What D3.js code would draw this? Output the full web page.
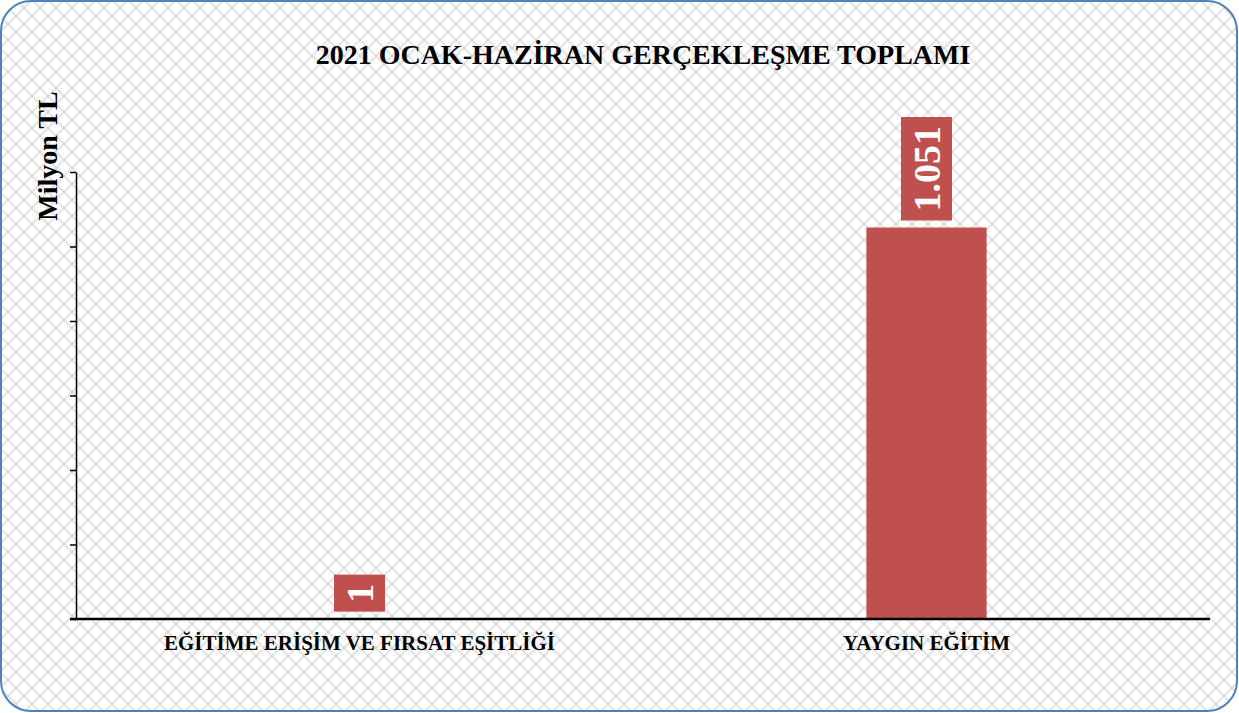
<!DOCTYPE html>
<html>
<head>
<meta charset="utf-8">
<script src="https://cdn.jsdelivr.net/npm/d3@7"></script>
<style>
  html, body { margin: 0; padding: 0; background: #fff; }
  svg text { font-family: "Liberation Serif", "Times New Roman", serif; font-weight: bold; }
</style>
</head>
<body>
<div id="chart"></div>
<script>
// chart data
const categories = ["EĞİTİME ERİŞİM VE FIRSAT EŞİTLİĞİ", "YAYGIN EĞİTİM"];
const values = [1, 1051];
const valueLabels = ["1", "1.051"];
const yTicks = [0, 200, 400, 600, 800, 1000, 1200];
const title = "2021 OCAK-HAZİRAN GERÇEKLEŞME TOPLAMI";
const yTitle = "Milyon TL";

const W = 1239, H = 713;
const margin = {top: 172, right: 29, bottom: 94, left: 76};
const width = W - margin.left - margin.right,
      height = H - margin.top - margin.bottom;

const svg = d3.select("#chart").append("svg")
  .attr("width", W)
  .attr("height", H);

// background hatch pattern
const defs = svg.append("defs");
const pat = defs.append("pattern")
  .attr("id", "hatch")
  .attr("patternUnits", "userSpaceOnUse")
  .attr("width", 16)
  .attr("height", 16);
pat.append("rect").attr("width", 16).attr("height", 16).attr("fill", "#fff");
pat.append("path")
  .attr("d", "M0,0 L16,16 M16,0 L0,16")
  .attr("stroke", "#d2d2d2")
  .attr("stroke-width", 1.8)
  .attr("stroke-dasharray", "1.5,0.8");

svg.append("rect")
  .attr("x", 1).attr("y", 1)
  .attr("width", W - 3).attr("height", H - 3)
  .attr("rx", 30).attr("ry", 30)
  .attr("fill", "url(#hatch)")
  .attr("stroke", "#4F81BD")
  .attr("stroke-width", 2);

// title
svg.append("text")
  .attr("x", 643)
  .attr("y", 64)
  .attr("text-anchor", "middle")
  .style("font-size", "28px")
  .text(title);

const g = svg.append("g")
  .attr("transform", "translate(" + margin.left + "," + margin.top + ")");

// scales
const x = d3.scaleBand()
  .domain(categories)
  .range([0, width])
  .paddingInner(0.788)
  .paddingOuter(0.394);

const y = d3.scaleLinear()
  .domain([0, 1200])
  .range([height, 0]);

// y axis (ticks without labels)
g.append("g")
  .attr("class", "y-axis")
  .call(d3.axisLeft(y).tickValues(yTicks).tickSize(6).tickSizeOuter(0).tickFormat(""))
  .call(a => a.selectAll("line, path").attr("stroke", "#000").attr("stroke-width", 1.5));

// y axis title
svg.append("text")
  .attr("transform", "translate(57,156) rotate(-90)")
  .attr("text-anchor", "middle")
  .style("font-size", "28px")
  .text(yTitle);

// bars
g.selectAll(".bar")
  .data(values)
  .enter().append("rect")
  .attr("class", "bar")
  .attr("x", (d, i) => x(categories[i]))
  .attr("y", d => y(d))
  .attr("width", x.bandwidth())
  .attr("height", d => height - y(d))
  .attr("fill", "#C0504D");

// x axis
g.append("g")
  .attr("class", "x-axis")
  .attr("transform", "translate(0," + height + ")")
  .call(d3.axisBottom(x).tickSize(0).tickPadding(16))
  .call(a => a.select(".domain").attr("stroke", "#000").attr("stroke-width", 2.5)
    .attr("d", "M-6,0H" + width))
  .call(a => a.selectAll("text")
    .style("font-size", "21px")
    .style("font-family", "'Liberation Serif', 'Times New Roman', serif")
    .style("font-weight", "bold")
    .attr("fill", "#000"));

// value labels (rotated, in red boxes above bars)
const labelFont = 38;
values.forEach((v, i) => {
  const cx = x(categories[i]) + x.bandwidth() / 2;
  const lg = g.append("g")
    .attr("transform", "translate(" + cx + "," + (y(v) - 7) + ")");
  const t = lg.append("text")
    .attr("transform", "rotate(-90)")
    .attr("x", 0)
    .attr("y", 0)
    .attr("dy", "0.35em")
    .attr("text-anchor", "start")
    .attr("fill", "#fff")
    .style("font-size", labelFont + "px")
    .text(valueLabels[i]);
  const len = t.node().getComputedTextLength();
  const padL = 9;
  lg.insert("rect", "text")
    .attr("x", -25.5)
    .attr("y", -(len + 2 * padL))
    .attr("width", 51)
    .attr("height", len + 2 * padL)
    .attr("fill", "#C0504D");
  t.attr("x", padL);
});
</script>
</body>
</html>
